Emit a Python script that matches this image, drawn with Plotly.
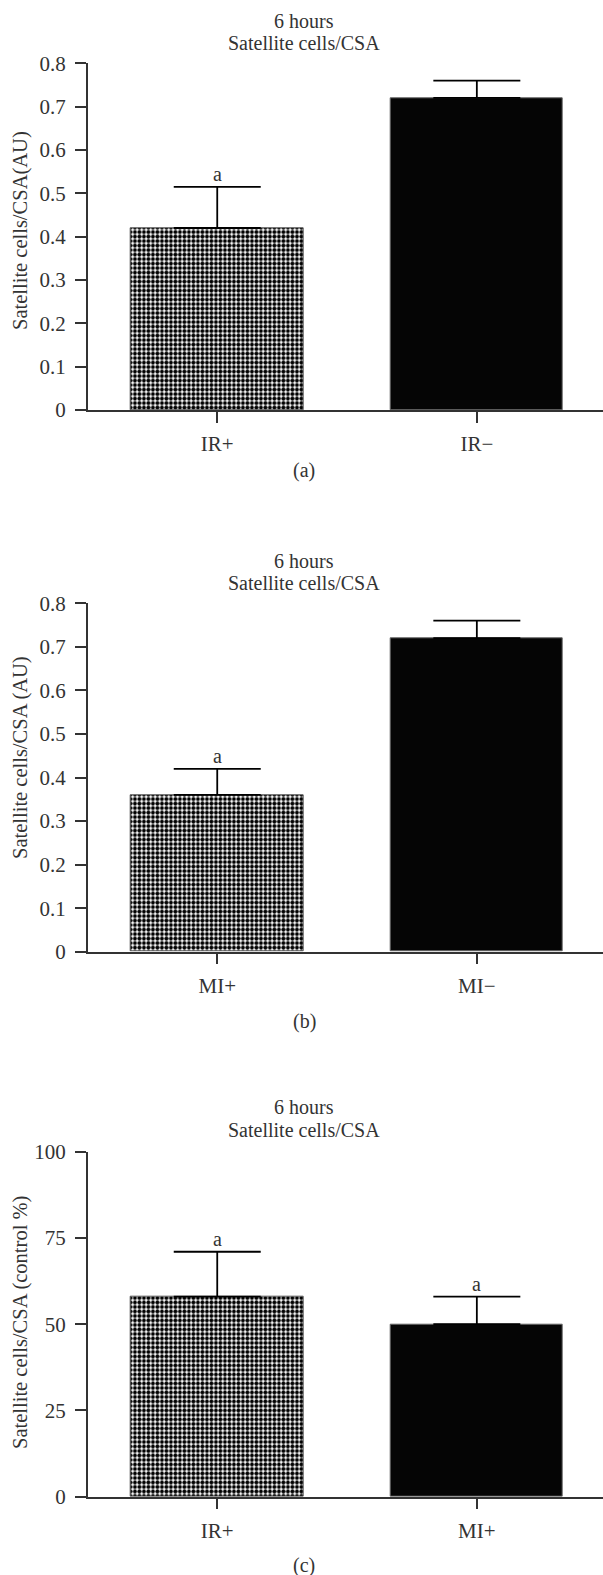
import plotly.graph_objects as go

W, H = 603, 1575

# ---- data ----
panel_a_cats = ["IR+", "IR−"]
panel_a_vals = [0.42, 0.72]
panel_a_err = [0.095, 0.04]
panel_a_sig = ["a", ""]

panel_b_cats = ["MI+", "MI−"]
panel_b_vals = [0.36, 0.72]
panel_b_err = [0.06, 0.04]
panel_b_sig = ["a", ""]

panel_c_cats = ["IR+", "MI+"]
panel_c_vals = [58, 50]
panel_c_err = [13, 8]
panel_c_sig = ["a", "a"]

y_ticks_au = [0, 0.1, 0.2, 0.3, 0.4, 0.5, 0.6, 0.7, 0.8]
y_ticks_pct = [0, 25, 50, 75, 100]

FONT = "Liberation Serif"
TXT = "#333333"
AX = "#333333"


def py(px):
    return 1 - px / H


panels = [
    dict(cats=panel_a_cats, vals=panel_a_vals, err=panel_a_err, sig=panel_a_sig,
         ticks=y_ticks_au, rng=[0, 0.8], bottom=410, top=63.3,
         ytitle="Satellite cells/CSA(AU)", label="(a)", label_y=470,
         t1=20.7, t2=43.3, ytitle_y=231),
    dict(cats=panel_b_cats, vals=panel_b_vals, err=panel_b_err, sig=panel_b_sig,
         ticks=y_ticks_au, rng=[0, 0.8], bottom=951.7, top=603.3,
         ytitle="Satellite cells/CSA (AU)", label="(b)", label_y=1021.7,
         t1=560.7, t2=583.3, ytitle_y=758),
    dict(cats=panel_c_cats, vals=panel_c_vals, err=panel_c_err, sig=panel_c_sig,
         ticks=y_ticks_pct, rng=[0, 100], bottom=1496.7, top=1151.7,
         ytitle="Satellite cells/CSA (control %)", label="(c)", label_y=1565,
         t1=1107.3, t2=1130, ytitle_y=1323),
]

fig = go.Figure()
annotations = []
x_left = 87.7 / W
x_range = [-0.499, 1.486]
CENTER_X = 304 / W

for i, p in enumerate(panels, start=1):
    xa = "x" if i == 1 else f"x{i}"
    ya = "y" if i == 1 else f"y{i}"
    pos = list(range(len(p["cats"])))
    # checkered bar for the first group, solid black for the second
    fig.add_trace(go.Bar(
        x=[pos[0]], y=[p["vals"][0]], xaxis=xa, yaxis=ya, width=0.663,
        marker=dict(color="white", line=dict(color="#555555", width=1),
                    pattern=dict(shape=".", fgcolor="black", bgcolor="white",
                                 size=4.5, solidity=0.6, fillmode="replace")),
        error_y=dict(type="data", symmetric=False, array=[p["err"][0]],
                     arrayminus=[0], color="black", thickness=1.8, width=43.5),
        showlegend=False,
    ))
    fig.add_trace(go.Bar(
        x=[pos[1]], y=[p["vals"][1]], xaxis=xa, yaxis=ya, width=0.663,
        marker=dict(color="#050505", line=dict(color="#666666", width=1)),
        error_y=dict(type="data", symmetric=False, array=[p["err"][1]],
                     arrayminus=[0], color="black", thickness=1.8, width=43.5),
        showlegend=False,
    ))

    axis_x = dict(domain=[x_left, 1], range=x_range, type="linear",
                  tickvals=pos, ticktext=p["cats"],
                  showline=True, linecolor=AX, linewidth=1.5,
                  ticks="outside", ticklen=11, tickwidth=1.5, tickcolor=AX,
                  tickfont=dict(family=FONT, size=21, color=TXT),
                  ticklabelstandoff=3, automargin=False,
                  showgrid=False, zeroline=False, anchor=ya, fixedrange=True)
    axis_y = dict(domain=[py(p["bottom"]), py(p["top"])], range=p["rng"],
                  tickvals=p["ticks"], ticktext=[f"{t:g}" for t in p["ticks"]],
                  showline=True, linecolor=AX, linewidth=1.5,
                  ticks="outside", ticklen=11, tickwidth=1.5, tickcolor=AX,
                  tickfont=dict(family=FONT, size=21, color=TXT),
                  ticklabelstandoff=5, automargin=False,
                  showgrid=False, zeroline=False, anchor=xa, fixedrange=True)
    key = "" if i == 1 else str(i)
    fig.update_layout(**{f"xaxis{key}": axis_x, f"yaxis{key}": axis_y})

    # significance letters above the error bars
    for x, v, e, s in zip(pos, p["vals"], p["err"], p["sig"]):
        if s:
            annotations.append(dict(x=x, y=v + e, xref=xa, yref=ya, text=s,
                                    showarrow=False, yanchor="bottom", yshift=0,
                                    font=dict(family=FONT, size=20, color=TXT)))

    # titles
    annotations.append(dict(x=CENTER_X, y=py(p["t1"]), xref="paper", yref="paper",
                            text="6 hours", showarrow=False, yanchor="middle",
                            font=dict(family=FONT, size=20, color=TXT)))
    annotations.append(dict(x=CENTER_X, y=py(p["t2"]), xref="paper", yref="paper",
                            text="Satellite cells/CSA", showarrow=False, yanchor="middle",
                            font=dict(family=FONT, size=20, color=TXT)))
    # y-axis title
    annotations.append(dict(x=20 / W, y=py(p["ytitle_y"]), xref="paper", yref="paper",
                            text=p["ytitle"], textangle=-90, showarrow=False,
                            xanchor="center", yanchor="middle",
                            font=dict(family=FONT, size=20.5, color=TXT)))
    # panel label
    annotations.append(dict(x=CENTER_X, y=py(p["label_y"]), xref="paper", yref="paper",
                            text=p["label"], showarrow=False, yanchor="middle",
                            font=dict(family=FONT, size=20, color=TXT)))

fig.update_layout(width=W, height=H, margin=dict(l=0, r=0, t=0, b=0, pad=0),
                  autosize=False,
                  paper_bgcolor="white", plot_bgcolor="white",
                  annotations=annotations, bargap=0)

fig.write_html("out.html")
